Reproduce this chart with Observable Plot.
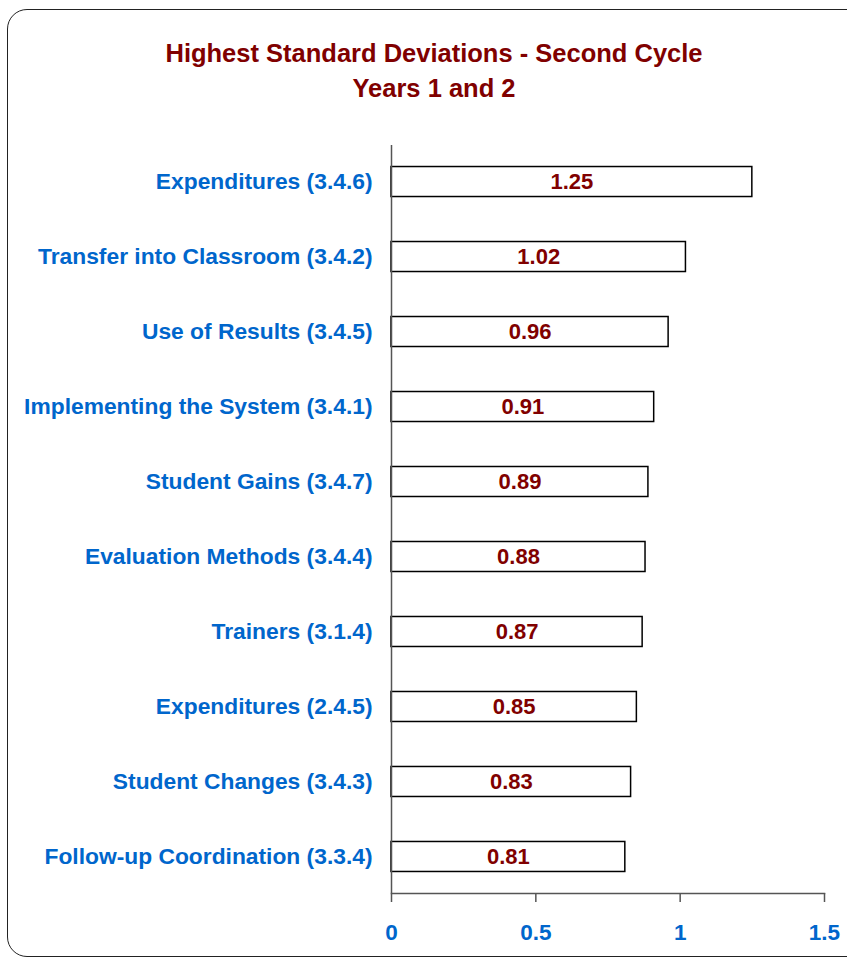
<!DOCTYPE html>
<html>
<head>
<meta charset="utf-8">
<script src="https://cdn.jsdelivr.net/npm/d3@7"></script>
<script src="https://cdn.jsdelivr.net/npm/@observablehq/plot@0.6"></script>
<style>
  html, body { margin: 0; padding: 0; background: #fff; overflow: hidden; }
  #wrap { position: relative; width: 847px; height: 961px; overflow: hidden; font-family: "Liberation Sans", Arial, sans-serif; }
  #frame { position: absolute; left: 7px; top: 8.5px; width: 870px; height: 948px; border: 1.5px solid #222; border-radius: 20px; box-sizing: border-box; }
  #title { position: absolute; left: 0; top: 36px; width: 868px; text-align: center; color: #800000; font-weight: bold; font-size: 25.5px; line-height: 35px; }
  #chart { position: absolute; left: 0; top: 0; }
</style>
</head>
<body>
<div id="wrap">
  <div id="frame"></div>
  <div id="chart"></div>
  <div id="title">Highest Standard Deviations - Second Cycle<br>Years 1 and 2</div>
</div>
<script>
const categories = [
  "Expenditures (3.4.6)",
  "Transfer into Classroom (3.4.2)",
  "Use of Results (3.4.5)",
  "Implementing the System (3.4.1)",
  "Student Gains (3.4.7)",
  "Evaluation Methods (3.4.4)",
  "Trainers (3.1.4)",
  "Expenditures (2.4.5)",
  "Student Changes (3.4.3)",
  "Follow-up Coordination (3.3.4)"
];
const values = [1.25, 1.02, 0.96, 0.91, 0.89, 0.88, 0.87, 0.85, 0.83, 0.81];
const xTicks = [0, 0.5, 1, 1.5];

const data = categories.map((c, i) => ({label: c, value: values[i]}));

const blue = "#0066CC";
const red = "#800000";

const plot = Plot.plot({
  width: 847,
  height: 961,
  marginLeft: 391,
  marginRight: 23,
  marginTop: 145,
  marginBottom: 68,
  style: {fontFamily: "'Liberation Sans', Arial, sans-serif", background: "transparent"},
  x: {domain: [0, 1.5]},
  y: {domain: categories, paddingInner: 0.6, paddingOuter: 0.287, round: false},
  marks: [
    Plot.barX(data, {x: "value", y: "label", fill: "white", stroke: "black", strokeWidth: 1.5}),
    Plot.text(data, {x: d => d.value / 2, y: "label", text: d => d.value.toFixed(2), fill: red, fontWeight: "bold", fontSize: 22}),
    Plot.ruleX([0], {stroke: "#555", strokeWidth: 1.5}),
    Plot.frame({anchor: "bottom", stroke: "#555", strokeWidth: 1.5}),
    Plot.axisX({ticks: xTicks, tickSize: 9, tickPadding: 22, tickFormat: d => String(d), fontSize: 22.5, fontWeight: "bold", fill: blue, stroke: "#555", strokeWidth: 1.5, label: null}),
    Plot.axisY({tickSize: 0, tickPadding: 19, fontSize: 22.8, fontWeight: "bold", fill: blue, label: null})
  ]
});
document.getElementById("chart").appendChild(plot);
</script>
</body>
</html>
